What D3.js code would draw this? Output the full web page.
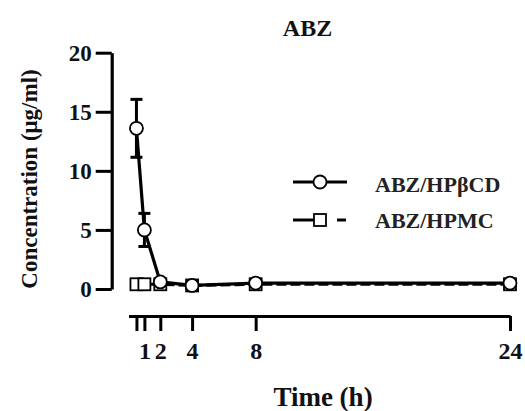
<!DOCTYPE html>
<html><head><meta charset="utf-8">
<script src="https://cdn.jsdelivr.net/npm/d3@7"></script>
</head><body style="margin:0;background:#fff">
<svg id="c" width="525" height="411" style="display:block"></svg>
<script>
const times = [0.5, 1, 2, 4, 8, 24];
const hpbcd = [13.6, 5.0, 0.6, 0.3, 0.5, 0.5];
const hpbcdErr = [2.45, 1.4, 0.2, 0.1, 0.1, 0.1];
const hpmc = [0.4, 0.4, 0.4, 0.3, 0.4, 0.4];
const xTicks = [0.5, 1, 2, 4, 8, 24];
const xTickLabels = ["", "1", "2", "4", "8", "24"];
const yTicks = [0, 5, 10, 15, 20];
const seriesNames = ["ABZ/HPβCD", "ABZ/HPMC"];

const svg = d3.select("#c");
const FONT = "Liberation Serif";
const x = d3.scaleLinear().domain([0, 24]).range([128.5, 510]);
const y = d3.scaleLinear().domain([0, 20]).range([289, 52.7]);

function styleText(sel, size, fill) {
  sel.attr("font-family", FONT).attr("font-weight", "bold").attr("font-size", size).attr("fill", fill || "#111");
}

// Y axis
const yAxis = svg.append("g").attr("transform", "translate(111.7,0)")
  .call(d3.axisLeft(y).tickValues(yTicks).tickSize(16).tickSizeOuter(0).tickPadding(4));
yAxis.attr("font-family", FONT);
yAxis.select(".domain").attr("stroke-width", 3.2).attr("stroke", "#000");
yAxis.selectAll(".tick line").attr("stroke-width", 3).attr("stroke", "#000");
styleText(yAxis.selectAll("text"), 23);

// X axis
const xAxis = svg.append("g").attr("transform", "translate(0,316)")
  .call(d3.axisBottom(x).tickValues(xTicks).tickFormat((d, i) => xTickLabels[i]).tickSize(15).tickSizeOuter(0).tickPadding(11));
xAxis.attr("font-family", FONT);
xAxis.select(".domain").attr("stroke-width", 3.2).attr("stroke", "#000");
xAxis.selectAll(".tick line").attr("stroke-width", 3).attr("stroke", "#000");
styleText(xAxis.selectAll("text"), 24);

// Titles
styleText(svg.append("text").attr("x", 307.5).attr("y", 36).attr("text-anchor", "middle").text("ABZ"), 24);
styleText(svg.append("text").attr("transform", "translate(37,179) rotate(-90)").attr("text-anchor", "middle")
  .text("Concentration (μg/ml)"), 23);
styleText(svg.append("text").attr("x", 323).attr("y", 406).attr("text-anchor", "middle").text("Time (h)"), 27);

const line = d3.line().x(d => x(d[0])).y(d => y(d[1]));
const dHpmc = times.map((t, i) => [t, hpmc[i]]);
const dHpb = times.map((t, i) => [t, hpbcd[i]]);

// HPMC series (dashed)
svg.append("path").datum(dHpmc).attr("d", line).attr("fill", "none").attr("stroke", "#000")
  .attr("stroke-width", 3).attr("stroke-dasharray", "10,4");
svg.selectAll(".sq").data(dHpmc).enter().append("rect")
  .attr("x", d => x(d[0]) - 6).attr("y", d => y(d[1]) - 6).attr("width", 12).attr("height", 12)
  .attr("fill", "#fff").attr("stroke", "#000").attr("stroke-width", 1.8);

// HPβCD series
const eg = svg.append("g");
times.forEach((t, i) => {
  const cx = x(t);
  eg.append("line").attr("x1", cx).attr("x2", cx).attr("y1", y(hpbcd[i] + hpbcdErr[i])).attr("y2", y(hpbcd[i] - hpbcdErr[i]))
    .attr("stroke", "#000").attr("stroke-width", 3);
  [hpbcd[i] + hpbcdErr[i], hpbcd[i] - hpbcdErr[i]].forEach(v => {
    eg.append("line").attr("x1", cx - 6).attr("x2", cx + 6).attr("y1", y(v)).attr("y2", y(v))
      .attr("stroke", "#000").attr("stroke-width", 3);
  });
});
svg.append("path").datum(dHpb).attr("d", line).attr("fill", "none").attr("stroke", "#000").attr("stroke-width", 3.2);
svg.selectAll(".ci").data(dHpb).enter().append("circle")
  .attr("cx", d => x(d[0])).attr("cy", d => y(d[1])).attr("r", 6.5)
  .attr("fill", "#fff").attr("stroke", "#000").attr("stroke-width", 1.8);

// Legend
const lg = svg.append("g");
lg.append("line").attr("x1", 293).attr("x2", 347).attr("y1", 182).attr("y2", 182).attr("stroke", "#000").attr("stroke-width", 3);
lg.append("circle").attr("cx", 320).attr("cy", 182).attr("r", 6.5).attr("fill", "#fff").attr("stroke", "#000").attr("stroke-width", 1.8);
lg.append("line").attr("x1", 293).attr("x2", 314).attr("y1", 220).attr("y2", 220).attr("stroke", "#000").attr("stroke-width", 3);
lg.append("line").attr("x1", 337).attr("x2", 346).attr("y1", 220).attr("y2", 220).attr("stroke", "#000").attr("stroke-width", 3);
lg.append("rect").attr("x", 314).attr("y", 214).attr("width", 12).attr("height", 12).attr("fill", "#fff").attr("stroke", "#000").attr("stroke-width", 1.8);
styleText(lg.selectAll("text").data(seriesNames).enter().append("text")
  .attr("x", 375).attr("y", (d, i) => 191.5 + i * 36.5).text(d => d), 22, "#222");
</script>
</body></html>
